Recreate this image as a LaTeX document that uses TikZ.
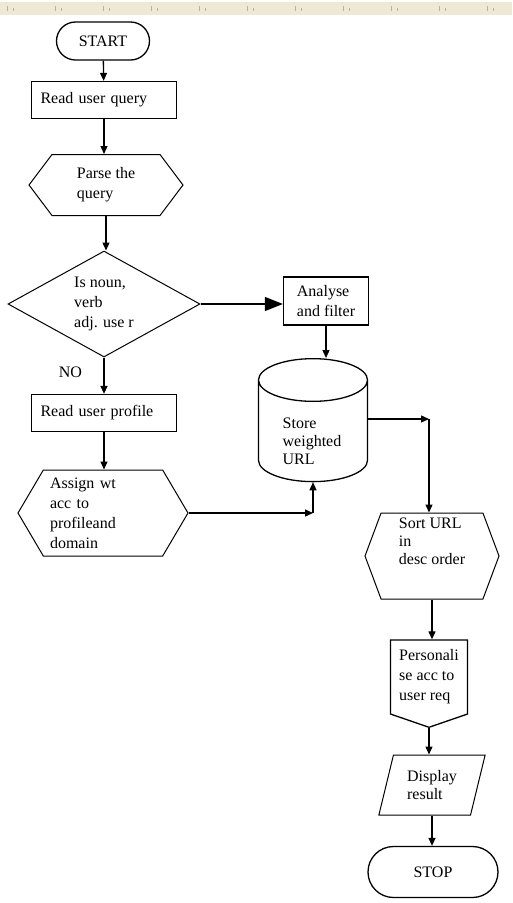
\documentclass[tikz,border=0pt]{standalone}
\usepackage{fontspec}
\setmainfont{Liberation Serif}
\usepackage{tikz}
\usetikzlibrary{arrows.meta, positioning, shapes.geometric, shapes.misc, shapes.symbols}
\newcommand{\flowfont}{\fontsize{16}{20}\selectfont}
\newcommand{\tightfont}{\fontsize{16}{18}\selectfont}
\definecolor{rulerbg}{RGB}{238,232,212}
\tikzset{>={Triangle[length=8pt,width=7pt]}}
\tikzset{
  base/.style={draw, line width=1.3pt, font=\flowfont, align=left, inner sep=2pt},
  term/.style={base, rounded rectangle, minimum width=97pt, minimum height=38pt},
  proc/.style={base, rectangle, minimum width=145pt, minimum height=37pt, text width=127pt},
  hexa/.style={base, line width=1pt, signal, signal to=east and west},
  decis/.style={base, line width=1pt, diamond, aspect=1.8, minimum width=192pt, minimum height=106pt, inner sep=0pt},
  store/.style={base, cylinder, shape border rotate=90, aspect=0.7, text width=57pt, text height=40pt, text depth=20pt, minimum width=109pt, minimum height=122pt},
  offpage/.style={base, signal, signal to=south, signal from=nowhere, signal pointer angle=142},
  io/.style={base, line width=1pt, trapezium, trapezium left angle=73, trapezium right angle=107, trapezium stretches, minimum width=107pt, minimum height=60pt},
  txt/.style={font=\tightfont, align=left, inner sep=0pt},
  flow/.style={->, line width=1.3pt},
}

\begin{document}
\begin{tikzpicture}[x=1pt, y=-1pt]
    \useasboundingbox (0,0) rectangle (512,903);
    % ruler strip
    \fill[rulerbg] (0,2) rectangle (512,15);
    \foreach \x in {7,55,...,487}
    {
        \draw[gray!60, line width=0.7pt](\x,6)--(\x,11) (\x+6,8)--(\x+6,11);
    }
    % left column
    \node[term] (start) at (103,41) {START};
    \node[proc] (read) at (104,100) {Read user query};
    \node[hexa, signal pointer angle=106, minimum width=154pt, minimum height=61pt] (parse) at (106,185) {Parse the\\query};
    \node[decis] (dec) at (104,304) {Is noun,\\verb\\adj. use r};
    \node[proc] (profile) at (104,413) {Read user profile};
    \node[hexa, signal pointer angle=119, minimum width=170pt, minimum height=86pt, text width=106pt] (assign) at (103,513) {Assign wt\\acc to\\profileand\\domain};
    % middle
    \node[base, rectangle, minimum width=85pt, minimum height=48pt] (ana) at (326,301) {Analyse\\and filter};
    \node[store, anchor=north] (db) at (313,358) {};
    \node[txt] (dbtext) at (312,441) {Store\\weighted\\URL};
    % right column
    \node[hexa, signal pointer angle=139, minimum width=134pt, minimum height=86pt] (sort) at (432,556) {};
    \node[txt] (sorttext) at (432,541) {Sort URL\\in\\desc order};
    \node[offpage, minimum width=77pt, minimum height=85pt] (pers) at (429,677) {Personali\\se acc to\\user req};
    \node[io, font=\tightfont] (disp) at (432,785) {Display\\result};
    \node[term, minimum width=134pt, minimum height=51pt] (stop) at (433,872) {STOP};
    \coordinate (c1) at (db.south |- assign.east);
    \coordinate (c2) at (429,419);
    % connectors
    \draw[flow](start)--(read);
    \draw[flow](read.south)--(read.south |- parse.north);
    \draw[flow](parse.south)--(parse.south |- dec.north);
    \draw[flow](dec.south)--node[pos=.4, left=18pt]{\flowfont NO}(dec.south |- profile.north);
    \draw[flow](profile.south)--(profile.south |- assign.north);
    \draw[->, >={Triangle[length=18pt,width=14pt]}, line width=1.3pt](dec.east)--(dec.east -| ana.west);
    \draw[flow](ana.south)--(ana.south |- db.north);
    \draw[flow](assign.east)--(c1);
    \draw[flow](c1)--(db.south);
    \draw[flow](db.east |- c2)--(c2);
    \draw[flow](c2)--(c2 |- sort.north);
    \draw[flow](sort.south)--(sort.south |- pers.north);
    \draw[flow](pers.south)--(pers.south |- disp.north);
    \draw[flow](disp.south)--(disp.south |- stop.north);
\end{tikzpicture}
\end{document}
